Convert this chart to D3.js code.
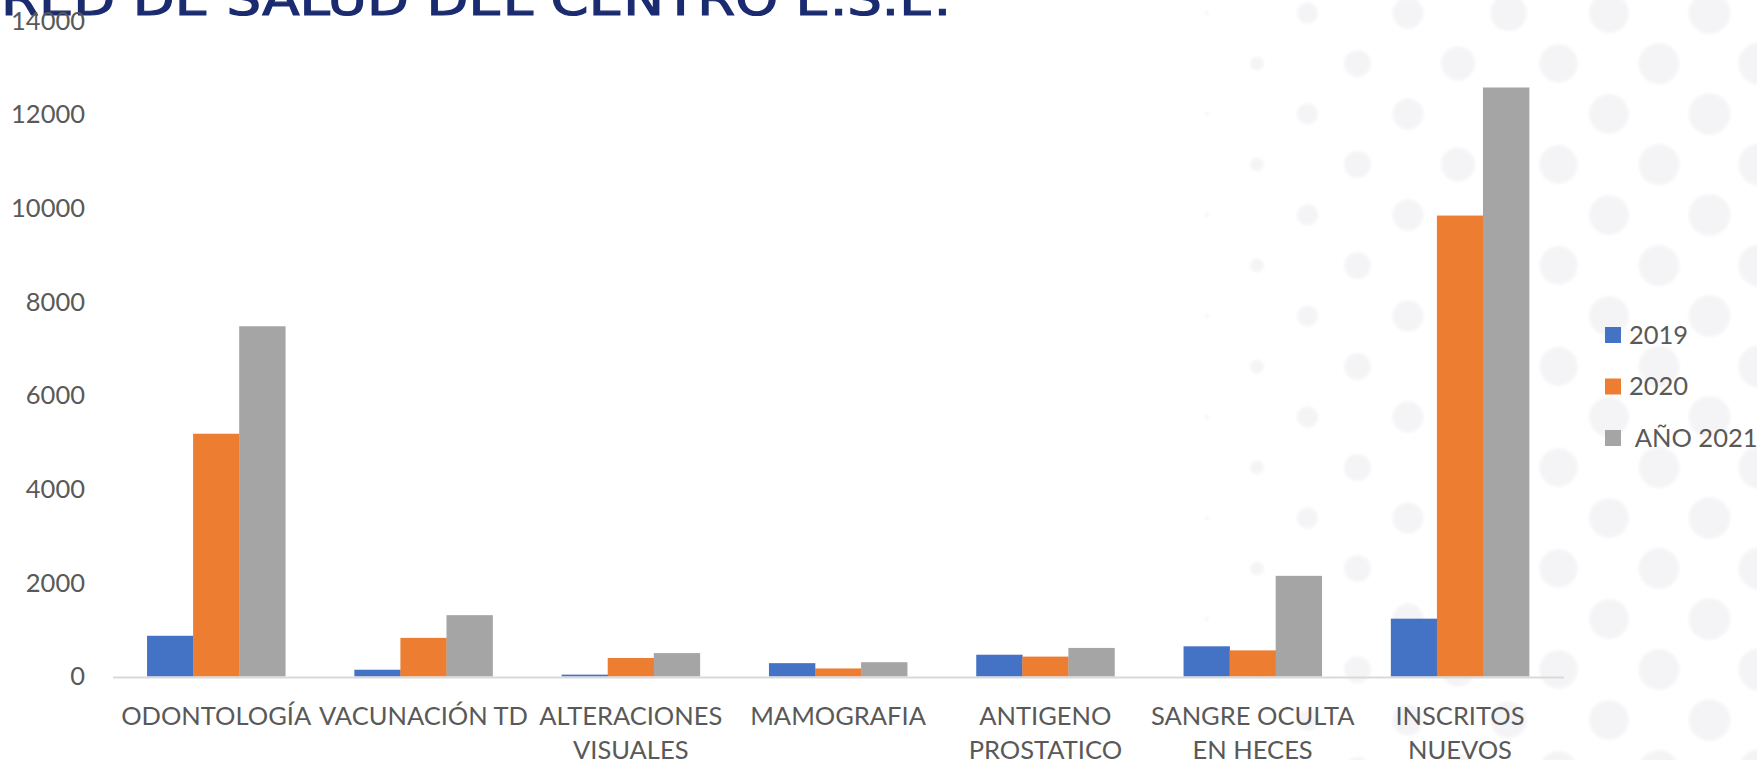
<!DOCTYPE html>
<html>
<head>
<meta charset="utf-8">
<script src="https://cdn.jsdelivr.net/npm/d3@7"></script>
<style>
body { margin: 0; background: #fff; }
svg { display: block; font-family: Lato, "Open Sans", sans-serif; }
</style>
</head>
<body>
<script>
var w = 1757;
var h = 760;

// chart data
var title = "RED DE SALUD DEL CENTRO E.S.E.";
var categories = ["ODONTOLOGÍA", "VACUNACIÓN TD", "ALTERACIONES VISUALES", "MAMOGRAFIA",
    "ANTIGENO PROSTATICO", "SANGRE OCULTA EN HECES", "INSCRITOS NUEVOS"];
var seriesNames = ["2019", "2020", " AÑO 2021"];
var values2019 = [870, 145, 40, 285, 465, 645, 1235];
var values2020 = [5185, 825, 395, 172, 425, 558, 9845];
var values2021 = [7480, 1310, 500, 305, 610, 2150, 12580];
var yTicks = [0, 2000, 4000, 6000, 8000, 10000, 12000, 14000];
var colors = ["#4472C4", "#ED7D31", "#A5A5A5"];

var seriesValues = [values2019, values2020, values2021];

var svg = d3.select("body").append("svg").attr("width", w).attr("height", h);
svg.append("rect").attr("width", w).attr("height", h).attr("fill", "#fff");

// faint dotted background on the right side
var blur = svg.append("defs").append("filter").attr("id", "soft");
blur.append("feGaussianBlur").attr("stdDeviation", 1.8);

var dots = [];
for (var row = 0; row < 16; row++) {
    var cy = 13 + row * 50.5;
    var start = row % 2 === 0 ? 1207 : 1257;
    for (var cx = start; cx < w + 30; cx += 100.5) {
        dots.push({x: cx, y: cy, r: 22 * (1 - Math.exp(-(cx - 1190) / 180))});
    }
}
svg.append("g").attr("filter", "url(#soft)")
    .selectAll("circle")
    .data(dots)
    .enter()
    .append("circle")
    .attr("cx", function (d) { return d.x; })
    .attr("cy", function (d) { return d.y; })
    .attr("r", function (d) { return d.r; })
    .attr("fill", "#f4f4f6");

// title, cut by the top edge like in the slide
svg.append("text")
    .attr("x", 1)
    .attr("y", 15)
    .attr("textLength", 950)
    .attr("lengthAdjust", "spacingAndGlyphs")
    .style("font-family", "'DejaVu Sans', sans-serif")
    .style("font-size", "46px")
    .attr("fill", "#1a2b70")
    .attr("stroke", "#1a2b70")
    .attr("stroke-width", 1.2)
    .text(title);

var x = d3.scaleBand()
    .domain(categories)
    .range([112.5, 1563.6])
    .paddingInner(0)
    .paddingOuter(0);

var xs = d3.scaleBand()
    .domain(seriesNames)
    .range([0, x.bandwidth()])
    .paddingInner(0)
    .paddingOuter(0.75);

var y = d3.scaleLinear()
    .domain([0, 14000])
    .range([676.5, 21]);

// y axis labels only
var yAxis = svg.append("g")
    .attr("transform", "translate(85,0)")
    .call(d3.axisLeft(y).tickValues(yTicks).tickSize(0).tickPadding(0).tickFormat(d3.format("d")));
yAxis.select(".domain").remove();
yAxis.selectAll("text")
    .style("font-family", "Lato, sans-serif")
    .style("font-size", "25.5px")
    .attr("fill", "#595959");

// bars
var groups = svg.selectAll("g.cat")
    .data(categories)
    .enter()
    .append("g")
    .attr("class", "cat")
    .attr("transform", function (d) { return "translate(" + x(d) + ",0)"; });

groups.selectAll("rect")
    .data(function (d, i) {
        return seriesNames.map(function (s, j) {
            return {series: s, value: seriesValues[j][i], color: colors[j]};
        });
    })
    .enter()
    .append("rect")
    .attr("x", function (d) { return xs(d.series); })
    .attr("width", xs.bandwidth() + 0.3)
    .attr("y", function (d) { return y(d.value); })
    .attr("height", function (d) { return y(0) - y(d.value); })
    .attr("fill", function (d) { return d.color; });

// x axis with wrapped labels
var xAxis = svg.append("g")
    .attr("transform", "translate(0,677)")
    .call(d3.axisBottom(x).tickSize(0).tickSizeOuter(0));
xAxis.select(".domain")
    .attr("stroke", "#d9d9d9")
    .attr("stroke-width", 2.2);

xAxis.selectAll("text")
    .style("font-family", "Lato, sans-serif")
    .style("font-size", "25.5px")
    .attr("fill", "#595959")
    .each(function (d) {
        var text = d3.select(this);
        var words = d.split(" ");
        text.text(null).attr("y", null).attr("dy", null);
        var lines = [];
        var line = [];
        var tspan = text.append("tspan");
        words.forEach(function (word) {
            line.push(word);
            tspan.text(line.join(" "));
            if (line.length > 1 && tspan.node().getComputedTextLength() > 215) {
                line.pop();
                lines.push(line.join(" "));
                line = [word];
            }
        });
        lines.push(line.join(" "));
        tspan.remove();
        lines.forEach(function (l, i) {
            text.append("tspan").attr("x", 0).attr("y", 48 + i * 34).text(l);
        });
    });

// legend
var legend = svg.append("g")
    .selectAll("g")
    .data(seriesNames)
    .enter()
    .append("g")
    .attr("transform", function (d, i) { return "translate(1605," + (335 + i * 51.5) + ")"; });

legend.append("rect")
    .attr("y", -8)
    .attr("width", 16)
    .attr("height", 16)
    .attr("fill", function (d, i) { return colors[i]; });

legend.append("text")
    .attr("x", 24)
    .attr("dy", "0.35em")
    .style("font-size", "25.5px")
    .style("white-space", "pre")
    .attr("fill", "#595959")
    .text(function (d) { return d; });
</script>
</body>
</html>
